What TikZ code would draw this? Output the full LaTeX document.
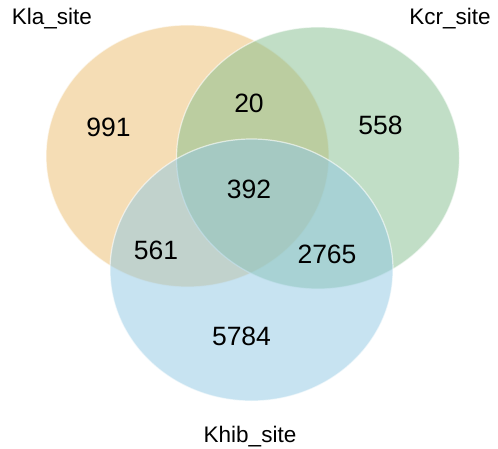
\documentclass[tikz,border=0pt]{standalone}
\usepackage{fontspec}
\setmainfont{Liberation Sans}
\definecolor{klaC}{RGB}{235,187,107}
\definecolor{kcrC}{RGB}{131,189,141}
\definecolor{khibC}{RGB}{143,199,227}
\tikzset{
  setshape/.style={fill opacity=0.5, draw=white, draw opacity=0.6, line width=1.2pt},
  countlbl/.style={anchor=base, font=\fontsize{26.5}{30}\selectfont, inner sep=0pt},
  setlbl/.style={anchor=base, font=\fontsize{22.5}{26}\selectfont, inner sep=0pt}
}
\begin{document}
\begin{tikzpicture}[x=1pt,y=-1pt]
\useasboundingbox (0,0) rectangle (498,449);
\path[setshape, fill=klaC] (187.5,156) ellipse [x radius=141.5, y radius=131];
\path[setshape, fill=kcrC] (318,158) ellipse [x radius=141.5, y radius=131];
\path[setshape, fill=khibC] (251.5,270) ellipse [x radius=141.5, y radius=131];
\node[countlbl] (n991) at (108.5,137) {991};
\node[countlbl] (n20) at (249,112.7) {20};
\node[countlbl] (n558) at (380.5,135) {558};
\node[countlbl] (n392) at (249,199) {392};
\node[countlbl] (n561) at (156,259) {561};
\node[countlbl] (n2765) at (327,263) {2765};
\node[countlbl] (n5784) at (241.5,345.7) {5784};
\node[setlbl] (kla) at (52,25) {Kla\_site};
\node[setlbl] (kcr) at (450,25) {Kcr\_site};
\node[setlbl] (khib) at (250,442) {Khib\_site};
\end{tikzpicture}
\end{document}
